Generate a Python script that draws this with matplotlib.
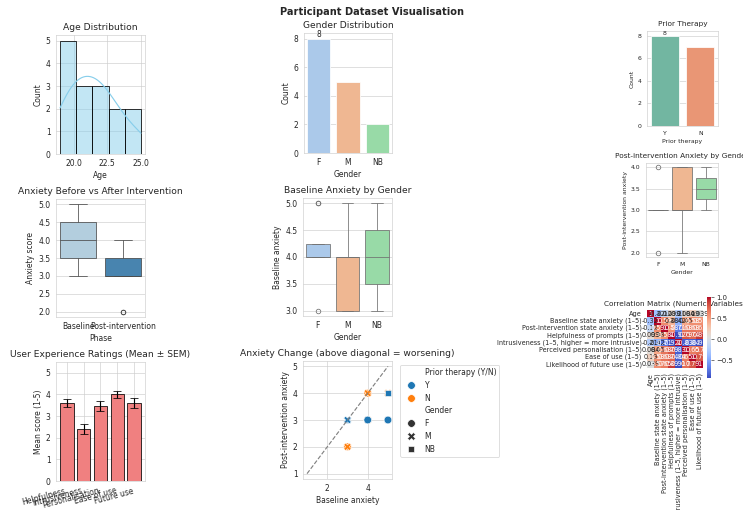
import matplotlib
matplotlib.use("Agg")
import matplotlib.pyplot as plt
import numpy as np
import pandas as pd
import seaborn as sns

sns.set_style("whitegrid")

# ---------------- data (15 participants) ----------------
gender = ["F", "M", "F", "F", "M", "F", "M", "M", "NB", "NB", "M", "F", "F", "F", "F"]
prior = ["Y", "N", "N", "N", "N", "N", "N", "N", "Y", "Y", "Y", "Y", "Y", "Y", "Y"]
age = [20, 22, 19, 21, 23, 20, 24, 19, 22, 25, 21, 21, 22, 20, 23]
baseline = [4, 4, 4, 3, 3, 4, 4, 5, 5, 3, 3, 4, 4, 5, 5]
post = [3, 3, 3, 2, 2, 4, 4, 4, 4, 3, 3, 3, 3, 3, 3]
helpfulness = [4, 3, 4, 3, 2, 4, 4, 3, 5, 4, 3, 4, 4, 3, 4]
intrusiveness = [2, 3, 2, 4, 4, 2, 1, 3, 1, 2, 3, 2, 2, 3, 2]
personalisation = [3, 3, 4, 3, 2, 4, 5, 3, 5, 3, 3, 4, 3, 3, 4]
ease = [4, 4, 4, 3, 3, 4, 5, 4, 5, 4, 3, 4, 5, 4, 4]
future = [4, 3, 4, 2, 2, 4, 4, 3, 5, 4, 3, 4, 4, 4, 4]

ux_labels = ["Helpfulness", "Intrusiveness", "Personalisation", "Ease of use", "Future use"]

C_BASE = "Baseline state anxiety (1–5)"
C_POST = "Post-intervention state anxiety (1–5)"
C_HELP = "Helpfulness of prompts (1–5)"
C_INTR = "Intrusiveness (1–5, higher = more intrusive)"
C_PERS = "Perceived personalisation (1–5)"
C_EASE = "Ease of use (1–5)"
C_FUT = "Likelihood of future use (1–5)"
C_PRIOR = "Prior therapy (Y/N)"

df = pd.DataFrame({
    "Age": age,
    "Gender": gender,
    C_PRIOR: prior,
    C_BASE: baseline,
    C_POST: post,
    C_HELP: helpfulness,
    C_INTR: intrusiveness,
    C_PERS: personalisation,
    C_EASE: ease,
    C_FUT: future,
})

W, H = 743, 510
fig = plt.figure(figsize=(W / 55, H / 55), dpi=55)


def add_ax(x0, y0, x1, y1):
    return fig.add_axes([x0 / W, 1 - y1 / H, (x1 - x0) / W, (y1 - y0) / H])


SMALL_T, SMALL_L = 9.6, 8
HEAT_L = 8.5

# Age distribution
ax = add_ax(56, 35, 145, 154)
sns.histplot(df["Age"], bins=5, kde=True, color="skyblue", edgecolor="black", ax=ax)
ax.set_title("Age Distribution")
ax.set_xlabel("Age")
ax.set_ylabel("Count")

# Gender distribution
ax = add_ax(304, 33, 392, 153)
sns.countplot(data=df, x="Gender", hue="Gender", palette="pastel", legend=False, ax=ax)
ax.bar_label(ax.containers[0])
ax.set_title("Gender Distribution")
ax.set_ylabel("Count")

# Prior therapy
ax = add_ax(647, 31, 718, 126)
sns.countplot(data=df, x=C_PRIOR, hue=C_PRIOR, palette="Set2", legend=False, ax=ax)
ax.bar_label(ax.containers[0], fontsize=SMALL_L)
ax.set_title("Prior Therapy", fontsize=SMALL_T)
ax.set_xlabel("Prior therapy", fontsize=SMALL_L)
ax.set_ylabel("Count", fontsize=SMALL_L)
ax.tick_params(labelsize=SMALL_L)

# Before vs after
ax = add_ax(56, 199, 145, 317)
long = pd.DataFrame({
    "Phase": ["Baseline"] * len(baseline) + ["Post-intervention"] * len(post),
    "Anxiety score": baseline + post,
})
sns.boxplot(data=long, x="Phase", y="Anxiety score", hue="Phase", palette="Blues", legend=False, ax=ax)
ax.set_title("Anxiety Before vs After Intervention")

# Baseline by gender
ax = add_ax(303, 198, 392, 316)
sns.boxplot(data=df, x="Gender", y=C_BASE, hue="Gender", palette="pastel", legend=False, ax=ax)
ax.set_title("Baseline Anxiety by Gender")
ax.set_ylabel("Baseline anxiety")

# Post by gender
ax = add_ax(646, 163, 718, 257)
sns.boxplot(data=df, x="Gender", y=C_POST, hue="Gender", palette="pastel", legend=False, ax=ax)
ax.set_title("Post-intervention Anxiety by Gender", fontsize=SMALL_T)
ax.set_ylabel("Post-intervention anxiety", fontsize=SMALL_L)
ax.set_xlabel("Gender", fontsize=SMALL_L)
ax.tick_params(labelsize=SMALL_L)

# UX ratings
ax = add_ax(56, 362, 145, 481)
ux_cols = [C_HELP, C_INTR, C_PERS, C_EASE, C_FUT]
means = [df[c].mean() for c in ux_cols]
sems = [df[c].sem() for c in ux_cols]
ax.bar(ux_labels, means, yerr=sems, capsize=5, color="lightcoral", edgecolor="black")
ax.set_ylim(0, 5.5)
ax.set_title("User Experience Ratings (Mean ± SEM)")
ax.set_ylabel("Mean score (1-5)")
plt.setp(ax.get_xticklabels(), rotation=15, ha="right")

# Scatter
ax = add_ax(303, 361, 392, 479)
sns.scatterplot(data=df, x=C_BASE, y=C_POST, hue=C_PRIOR, style="Gender", s=100, ax=ax)
ax.plot([1, 5], [1, 5], "--", color="gray")
ax.set_title("Anxiety Change (above diagonal = worsening)")
ax.set_xlabel("Baseline anxiety")
ax.set_ylabel("Post-intervention anxiety")
ax.legend(bbox_to_anchor=(1.05, 1), loc="upper left")

# Correlation heatmap
hax = add_ax(647, 310, 703, 368)
cax = add_ax(707, 297, 711, 378)
num_cols = ["Age", C_BASE, C_POST, C_HELP, C_INTR, C_PERS, C_EASE, C_FUT]
corr = df[num_cols].corr()
sns.heatmap(corr, annot=True, cmap="coolwarm", ax=hax, cbar_ax=cax,
            xticklabels=True, yticklabels=True, annot_kws={"size": HEAT_L})
hax.set_title("Correlation Matrix (Numeric Variables)", fontsize=SMALL_T)
hax.tick_params(labelsize=HEAT_L)
cax.tick_params(labelsize=9)

fig.suptitle("Participant Dataset Visualisation", fontsize=13, fontweight="bold", y=1 - 7 / H, va="top")

fig.savefig("out.png", dpi=55)
